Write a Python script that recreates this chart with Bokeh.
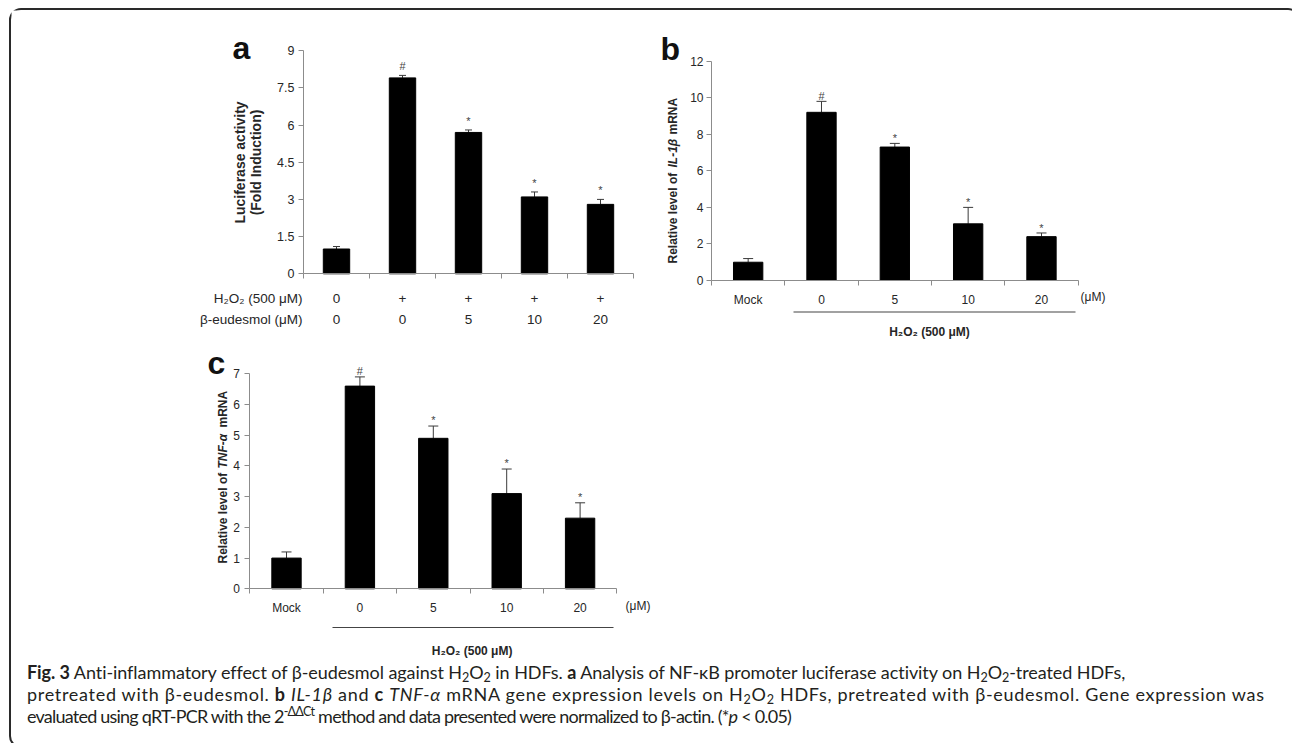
import math
from bokeh.plotting import figure
from bokeh.models import Range1d, FixedTicker, LinearAxis, Whisker, TeeHead, ColumnDataSource, Div
from bokeh.layouts import column, row
from bokeh.core.properties import value
from bokeh.embed import file_html
from bokeh.resources import INLINE

# ---------------- data ----------------
centers = [0.5, 1.5, 2.5, 3.5, 4.5]
boundaries = [0, 1, 2, 3, 4, 5]

a_values = [1.0, 7.9, 5.7, 3.1, 2.8]
a_errors = [0.1, 0.1, 0.1, 0.2, 0.2]
a_marks = ["", "#", "*", "*", "*"]
a_h2o2 = ["0", "+", "+", "+", "+"]
a_eudesmol = ["0", "0", "5", "10", "20"]
a_yticks = [0, 1.5, 3, 4.5, 6, 7.5, 9]
a_ytick_labels = ["0", "1.5", "3", "4.5", "6", "7.5", "9"]

b_categories = ["Mock", "0", "5", "10", "20"]
b_values = [1.0, 9.2, 7.3, 3.1, 2.4]
b_errors = [0.2, 0.6, 0.2, 0.9, 0.2]
b_marks = ["", "#", "*", "*", "*"]
b_yticks = [0, 2, 4, 6, 8, 10, 12]
b_ytick_labels = ["0", "2", "4", "6", "8", "10", "12"]

c_categories = ["Mock", "0", "5", "10", "20"]
c_values = [1.0, 6.6, 4.9, 3.1, 2.3]
c_errors = [0.2, 0.3, 0.4, 0.8, 0.5]
c_marks = ["", "#", "*", "*", "*"]
c_yticks = [0, 1, 2, 3, 4, 5, 6, 7]
c_ytick_labels = ["0", "1", "2", "3", "4", "5", "6", "7"]

FONT = "Liberation Sans"
AXIS_GRAY = "#8c8c8c"
TXT = "#262626"


class Panel:
    """A figure whose frame fills its canvas; page pixel geometry -> data ranges."""

    def __init__(self, left, top, w, h, x0, xs, y0, ys):
        self.x0, self.xs, self.y0, self.ys = x0, xs, y0, ys
        xr = Range1d((left - x0) / xs, (left + w - x0) / xs)
        yr = Range1d((y0 - (top + h)) / ys, (y0 - top) / ys)
        p = figure(width=w, height=h, x_range=xr, y_range=yr, min_border=0,
                   x_axis_location=None, y_axis_location=None,
                   output_backend="svg", toolbar_location=None)
        p.grid.visible = False
        p.outline_line_color = None
        p.background_fill_color = "white"
        p.border_fill_color = "white"
        self.p = p

    def d(self, px, py):
        return (px - self.x0) / self.xs, (self.y0 - py) / self.ys

    def text(self, px, py, t, size="12px", style="normal", align="left", base="middle",
             angle=0.0, color=TXT, dx=None):
        x, y = self.d(px, py)
        if dx is not None:
            x = dx
        self.p.text(x=[x], y=[y], text=[t], text_font=value(FONT), text_font_size=size,
                    text_font_style=style, text_align=align, text_baseline=base, angle=angle,
                    text_color=color)

    def hline(self, px0, px1, py):
        x0, y = self.d(px0, py)
        x1, _ = self.d(px1, py)
        self.p.segment(x0=[x0], y0=[y], x1=[x1], y1=[y], line_color="#444444", line_width=1.2)

    def chart(self, ymax, yticks, ylabels, values, errors, marks, cats, gap, ystandoff,
              tick_size="12px", cap=8):
        p = self.p
        src = ColumnDataSource(dict(x=centers, val=values,
                                    top=[v + e for v, e in zip(values, errors)], mark=marks))
        p.vbar(x="x", top="val", width=0.4, source=src, fill_color="black", line_color="black")
        p.add_layout(Whisker(source=src, base="x", lower="val", upper="top",
                             dimension="height", line_color="#3a3a3a", line_width=1,
                             upper_head=TeeHead(size=cap, line_color="#3a3a3a", line_width=1),
                             lower_head=None))
        p.text(x="x", y="top", text="mark", source=src, text_align="center",
               text_baseline="alphabetic", y_offset=-gap, text_font=value(FONT),
               text_font_size="11px", text_color="#444444")
        ya = LinearAxis(fixed_location=0, bounds=(0, ymax),
                        ticker=FixedTicker(ticks=yticks),
                        major_label_overrides={t: l for t, l in zip(yticks, ylabels)},
                        major_tick_in=0, major_tick_out=5, minor_tick_line_color=None,
                        axis_line_color=AXIS_GRAY, major_tick_line_color=AXIS_GRAY,
                        major_label_text_font=FONT, major_label_text_font_size=tick_size,
                        major_label_text_color=TXT, major_label_standoff=ystandoff)
        p.add_layout(ya, "left")
        xa = LinearAxis(fixed_location=0, bounds=(0, 5),
                        ticker=FixedTicker(ticks=centers, minor_ticks=boundaries),
                        major_tick_line_color=None, major_tick_in=0, major_tick_out=0,
                        minor_tick_in=0, minor_tick_out=5, minor_tick_line_color=AXIS_GRAY,
                        axis_line_color=AXIS_GRAY, major_label_text_font=FONT,
                        major_label_text_font_size=tick_size, major_label_text_color=TXT,
                        major_label_standoff=7)
        if cats is None:
            xa.major_label_text_color = None
        else:
            xa.major_label_overrides = {c: l for c, l in zip(centers, cats)}
        p.add_layout(xa, "below")


# ---------------- panel a ----------------
A = Panel(11, 10, 629, 330, 303, 66.0, 273.3, 24.8)
A.chart(9, a_yticks, a_ytick_labels, a_values, a_errors, a_marks, None, 9, 4, "12.5px", 7)
A.text(232, 47, "a", size="32px", style="bold", base="alphabetic", color="#111111")
A.text(239, 162, "Luciferase activity", size="14px", style="bold", align="center",
       angle=math.pi / 2)
A.text(255, 162, "(Fold Induction)", size="14px", style="bold", align="center",
       angle=math.pi / 2)
A.text(302, 298, "H\u2082O\u2082 (500 \u03bcM)", size="13.5px", align="right")
A.text(302, 319, "\u03b2-eudesmol (\u03bcM)", size="13.5px", align="right")
for cx, t1, t2 in zip(centers, a_h2o2, a_eudesmol):
    A.text(0, 298, t1, size="13.5px", align="center", dx=cx)
    A.text(0, 319, t2, size="13.5px", align="center", dx=cx)

# ---------------- panel b ----------------
B = Panel(640, 10, 648, 330, 711, 73.33, 280.0, 18.28)
B.chart(12, b_yticks, b_ytick_labels, b_values, b_errors, b_marks, b_categories, 5, 3,
        "12px", 10)
B.text(660, 48, "b", size="32px", style="bold", base="alphabetic", color="#111111")
B.text(672, 263, "Relative level of ", size="12px", style="bold", angle=math.pi / 2)
B.text(672, 167, "IL-1\u03b2", size="12px", style="bold italic", angle=math.pi / 2)
B.text(672, 134, "mRNA", size="12px", style="bold", angle=math.pi / 2)
B.text(1080, 296, "(\u03bcM)", size="12px")
B.hline(793, 1075, 311.5)
B.text(929, 331.5, "H\u2082O\u2082 (500 \u03bcM)", size="12px", style="bold", align="center")

# ---------------- panel c ----------------
C = Panel(11, 340, 1277, 318, 249.3, 73.4, 588.3, 30.71)
C.chart(7, c_yticks, c_ytick_labels, c_values, c_errors, c_marks, c_categories, 6, 5,
        "12px", 10)
C.text(207, 362, "c", size="32px", style="bold", base="alphabetic", color="#111111")
C.text(222, 563, "Relative level of ", size="12px", style="bold", angle=math.pi / 2)
C.text(222, 468, "TNF-\u03b1", size="12px", style="bold italic", angle=math.pi / 2)
C.text(222, 427, "mRNA", size="12px", style="bold", angle=math.pi / 2)
C.text(625, 605, "(\u03bcM)", size="12px")
C.hline(332, 613, 627)
C.text(471.6, 650, "H\u2082O\u2082 (500 \u03bcM)", size="12px", style="bold", align="center")

# ---------------- caption ----------------
SUB = '<sub style="font-size:70%;vertical-align:-0.25em;line-height:0">2</sub>'
caption = (
    '<div style="font-family:Lato,\'Open Sans\',sans-serif;font-size:18px;line-height:22px;'
    'color:#231f20;padding-left:11px;margin-top:-2px;white-space:nowrap;">'
    '<span style="letter-spacing:-0.07px">'
    '<b>Fig. 3</b> Anti-inflammatory effect of \u03b2-eudesmol against H' + SUB + 'O' + SUB +
    ' in HDFs. <b>a</b> Analysis of NF-\u03baB promoter luciferase activity on H' + SUB + 'O' +
    SUB + '-treated HDFs,</span><br>'
    '<span style="letter-spacing:0.7px">'
    'pretreated with \u03b2-eudesmol. <b>b</b> <i>IL-1\u03b2</i> and <b>c</b> <i>TNF-\u03b1</i> '
    'mRNA gene expression levels on H' + SUB + 'O' + SUB + ' HDFs, pretreated with '
    '\u03b2-eudesmol. Gene expression was</span><br>'
    '<span style="letter-spacing:-0.78px">'
    'evaluated using qRT-PCR with the 2<sup style="font-size:70%;line-height:0">-\u0394\u0394Ct</sup> '
    'method and data presented were normalized to \u03b2-actin. (*<i>p</i> &lt; 0.05)</span>'
    '</div>')
cap = Div(text=caption, width=1277, height=78)

layout = column(row(A.p, B.p), C.p, cap, margin=(8, 0, 0, 9),
                styles={"border": "2px solid #2a2a2a", "border-radius": "12px"})

open("out.html", "w").write(file_html(layout, INLINE))
